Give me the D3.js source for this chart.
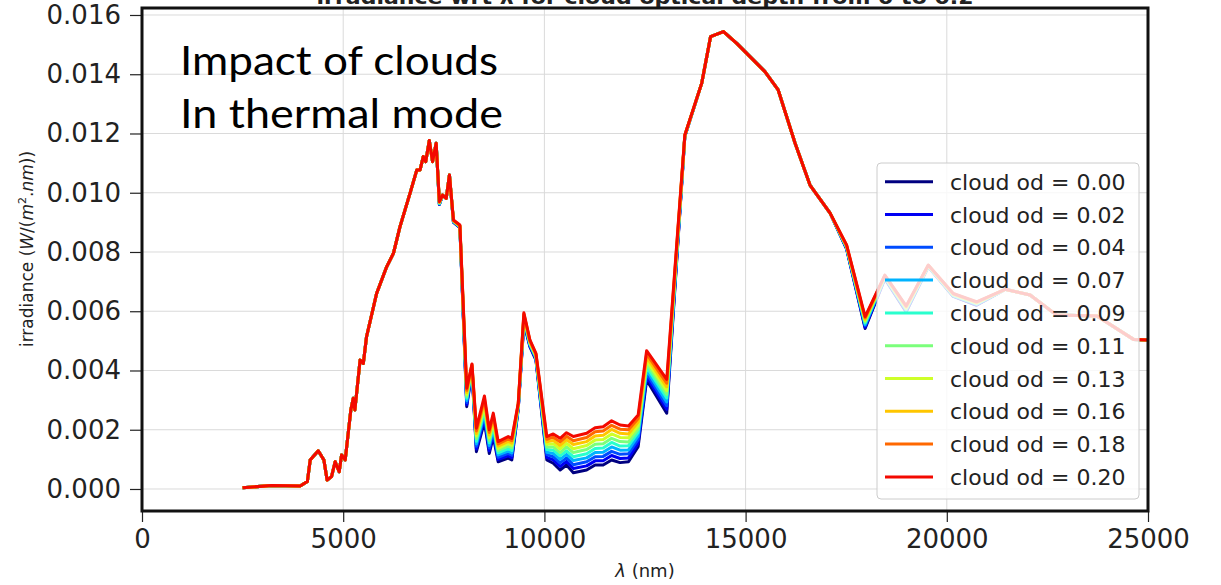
<!DOCTYPE html>
<html>
<head>
<meta charset="utf-8">
<script src="https://cdn.jsdelivr.net/npm/d3@7"></script>
<style>
    body { margin: 0; background: #fff; }
    svg { display: block; }
    .tick text { font-family: "DejaVu Sans", sans-serif; fill: #222; }
</style>
</head>
<body>
<div id="chart"></div>
<script>
// wavelength samples (nm)
const wavelength = [
    2500, 3220, 3930, 4110, 4180, 4380, 4520, 4600, 4710, 4800,
    4900, 4960, 5050, 5190, 5250, 5290, 5420, 5500, 5580, 5830,
    6080, 6250, 6410, 6660, 6830, 6910, 6990, 7050, 7140, 7220,
    7310, 7390, 7470, 7560, 7640, 7740, 7900, 8070, 8200, 8310,
    8510, 8630, 8730, 8850, 9100, 9190, 9350, 9490, 9640, 9790,
    10060, 10220, 10390, 10550, 10720, 11050, 11260, 11460, 11670, 11880,
    12090, 12330, 12540, 13040, 13490, 13910, 14130, 14450, 14780, 15480,
    15810, 16230, 16600, 17100, 17510, 17970, 18460, 18990, 19540, 20160,
    20740, 21450, 22070, 22730, 23730, 24640, 25000
];

// irradiance W/(m2.nm), one array per cloud optical depth
const od000 = [
    0.00004, 0.00012, 0.00010, 0.00025, 0.00098, 0.00129, 0.00098, 0.00030, 0.00042, 0.00092,
    0.00058, 0.00115, 0.00098, 0.00267, 0.00306, 0.00267, 0.00435, 0.00424, 0.00514, 0.00660,
    0.00750, 0.00796, 0.00885, 0.00998, 0.01077, 0.01077, 0.01122, 0.01105, 0.01176, 0.01105,
    0.01167, 0.00960, 0.00992, 0.00981, 0.01060, 0.00900, 0.00882, 0.00278, 0.00400, 0.00126,
    0.00227, 0.00120, 0.00177, 0.00092, 0.00104, 0.00098, 0.00270, 0.00560, 0.00480, 0.00435,
    0.00098, 0.00087, 0.00064, 0.00081, 0.00055, 0.00064, 0.00081, 0.00081, 0.00098, 0.00089,
    0.00092, 0.00143, 0.00368, 0.00256, 0.01190, 0.01370, 0.01527, 0.01544, 0.01504, 0.01409,
    0.01347, 0.01167, 0.01026, 0.00931, 0.00810, 0.00542, 0.00710, 0.00598, 0.00750, 0.00650,
    0.00620, 0.00674, 0.00655, 0.00587, 0.00584, 0.00505, 0.00503
];
const od002 = [
    0.00004, 0.00012, 0.00010, 0.00025, 0.00098, 0.00129, 0.00098, 0.00030, 0.00042, 0.00092,
    0.00058, 0.00115, 0.00098, 0.00267, 0.00306, 0.00267, 0.00435, 0.00424, 0.00514, 0.00660,
    0.00750, 0.00796, 0.00885, 0.00998, 0.01077, 0.01077, 0.01122, 0.01105, 0.01176, 0.01105,
    0.01167, 0.00961, 0.00992, 0.00981, 0.01060, 0.00901, 0.00883, 0.00285, 0.00402, 0.00135,
    0.00237, 0.00129, 0.00186, 0.00100, 0.00112, 0.00106, 0.00272, 0.00564, 0.00483, 0.00438,
    0.00107, 0.00098, 0.00076, 0.00093, 0.00069, 0.00078, 0.00095, 0.00095, 0.00113, 0.00103,
    0.00105, 0.00155, 0.00379, 0.00269, 0.01191, 0.01370, 0.01527, 0.01544, 0.01504, 0.01409,
    0.01347, 0.01167, 0.01026, 0.00931, 0.00812, 0.00546, 0.00711, 0.00600, 0.00751, 0.00651,
    0.00621, 0.00674, 0.00655, 0.00587, 0.00584, 0.00505, 0.00503
];
const od004 = [
    0.00004, 0.00012, 0.00010, 0.00025, 0.00098, 0.00129, 0.00098, 0.00030, 0.00042, 0.00092,
    0.00058, 0.00115, 0.00098, 0.00267, 0.00306, 0.00267, 0.00435, 0.00424, 0.00514, 0.00660,
    0.00750, 0.00796, 0.00885, 0.00998, 0.01077, 0.01077, 0.01122, 0.01105, 0.01176, 0.01105,
    0.01167, 0.00962, 0.00992, 0.00981, 0.01060, 0.00902, 0.00884, 0.00292, 0.00405, 0.00144,
    0.00246, 0.00138, 0.00195, 0.00107, 0.00120, 0.00114, 0.00274, 0.00568, 0.00485, 0.00440,
    0.00116, 0.00109, 0.00088, 0.00105, 0.00082, 0.00092, 0.00109, 0.00110, 0.00127, 0.00117,
    0.00119, 0.00167, 0.00390, 0.00281, 0.01191, 0.01370, 0.01527, 0.01544, 0.01504, 0.01409,
    0.01347, 0.01167, 0.01026, 0.00931, 0.00813, 0.00551, 0.00713, 0.00602, 0.00751, 0.00652,
    0.00623, 0.00674, 0.00655, 0.00587, 0.00584, 0.00505, 0.00503
];
const od007 = [
    0.00004, 0.00012, 0.00010, 0.00025, 0.00098, 0.00129, 0.00098, 0.00030, 0.00042, 0.00092,
    0.00058, 0.00115, 0.00098, 0.00267, 0.00306, 0.00267, 0.00435, 0.00424, 0.00514, 0.00660,
    0.00750, 0.00796, 0.00885, 0.00998, 0.01077, 0.01077, 0.01122, 0.01105, 0.01176, 0.01105,
    0.01167, 0.00963, 0.00992, 0.00981, 0.01060, 0.00903, 0.00885, 0.00299, 0.00407, 0.00152,
    0.00256, 0.00147, 0.00203, 0.00115, 0.00128, 0.00122, 0.00276, 0.00572, 0.00488, 0.00443,
    0.00124, 0.00120, 0.00100, 0.00117, 0.00096, 0.00105, 0.00123, 0.00124, 0.00142, 0.00131,
    0.00132, 0.00179, 0.00401, 0.00294, 0.01192, 0.01370, 0.01527, 0.01544, 0.01504, 0.01409,
    0.01347, 0.01167, 0.01026, 0.00931, 0.00815, 0.00555, 0.00714, 0.00605, 0.00752, 0.00653,
    0.00624, 0.00674, 0.00655, 0.00587, 0.00584, 0.00505, 0.00503
];
const od009 = [
    0.00004, 0.00012, 0.00010, 0.00025, 0.00098, 0.00129, 0.00098, 0.00030, 0.00042, 0.00092,
    0.00058, 0.00115, 0.00098, 0.00267, 0.00306, 0.00267, 0.00435, 0.00424, 0.00514, 0.00660,
    0.00750, 0.00796, 0.00885, 0.00998, 0.01077, 0.01077, 0.01122, 0.01105, 0.01176, 0.01105,
    0.01167, 0.00964, 0.00992, 0.00981, 0.01060, 0.00904, 0.00886, 0.00306, 0.00410, 0.00161,
    0.00266, 0.00156, 0.00212, 0.00122, 0.00136, 0.00130, 0.00278, 0.00576, 0.00490, 0.00445,
    0.00133, 0.00131, 0.00112, 0.00129, 0.00109, 0.00119, 0.00137, 0.00138, 0.00157, 0.00145,
    0.00146, 0.00191, 0.00412, 0.00307, 0.01192, 0.01370, 0.01527, 0.01544, 0.01504, 0.01409,
    0.01347, 0.01167, 0.01026, 0.00931, 0.00816, 0.00560, 0.00715, 0.00607, 0.00753, 0.00654,
    0.00625, 0.00674, 0.00655, 0.00587, 0.00584, 0.00505, 0.00503
];
const od011 = [
    0.00004, 0.00012, 0.00010, 0.00025, 0.00098, 0.00129, 0.00098, 0.00030, 0.00042, 0.00092,
    0.00058, 0.00115, 0.00098, 0.00267, 0.00306, 0.00267, 0.00435, 0.00424, 0.00514, 0.00660,
    0.00750, 0.00796, 0.00885, 0.00998, 0.01077, 0.01077, 0.01122, 0.01105, 0.01176, 0.01105,
    0.01167, 0.00966, 0.00992, 0.00981, 0.01060, 0.00904, 0.00886, 0.00312, 0.00412, 0.00170,
    0.00275, 0.00164, 0.00221, 0.00130, 0.00145, 0.00139, 0.00281, 0.00579, 0.00493, 0.00448,
    0.00142, 0.00142, 0.00123, 0.00142, 0.00123, 0.00133, 0.00151, 0.00153, 0.00171, 0.00160,
    0.00159, 0.00202, 0.00423, 0.00319, 0.01193, 0.01370, 0.01527, 0.01544, 0.01504, 0.01409,
    0.01347, 0.01167, 0.01026, 0.00931, 0.00818, 0.00564, 0.00717, 0.00609, 0.00753, 0.00656,
    0.00627, 0.00674, 0.00655, 0.00587, 0.00584, 0.00505, 0.00503
];
const od013 = [
    0.00004, 0.00012, 0.00010, 0.00025, 0.00098, 0.00129, 0.00098, 0.00030, 0.00042, 0.00092,
    0.00058, 0.00115, 0.00098, 0.00267, 0.00306, 0.00267, 0.00435, 0.00424, 0.00514, 0.00660,
    0.00750, 0.00796, 0.00885, 0.00998, 0.01077, 0.01077, 0.01122, 0.01105, 0.01176, 0.01105,
    0.01167, 0.00967, 0.00992, 0.00981, 0.01060, 0.00905, 0.00887, 0.00319, 0.00415, 0.00179,
    0.00285, 0.00173, 0.00230, 0.00137, 0.00153, 0.00147, 0.00283, 0.00583, 0.00495, 0.00450,
    0.00151, 0.00153, 0.00135, 0.00154, 0.00136, 0.00147, 0.00165, 0.00167, 0.00186, 0.00174,
    0.00173, 0.00214, 0.00434, 0.00332, 0.01193, 0.01370, 0.01527, 0.01544, 0.01504, 0.01409,
    0.01347, 0.01167, 0.01026, 0.00931, 0.00819, 0.00569, 0.00718, 0.00611, 0.00754, 0.00657,
    0.00628, 0.00674, 0.00655, 0.00587, 0.00584, 0.00505, 0.00503
];
const od016 = [
    0.00004, 0.00012, 0.00010, 0.00025, 0.00098, 0.00129, 0.00098, 0.00030, 0.00042, 0.00092,
    0.00058, 0.00115, 0.00098, 0.00267, 0.00306, 0.00267, 0.00435, 0.00424, 0.00514, 0.00660,
    0.00750, 0.00796, 0.00885, 0.00998, 0.01077, 0.01077, 0.01122, 0.01105, 0.01176, 0.01105,
    0.01167, 0.00968, 0.00992, 0.00981, 0.01060, 0.00906, 0.00888, 0.00326, 0.00417, 0.00187,
    0.00295, 0.00182, 0.00238, 0.00145, 0.00161, 0.00155, 0.00285, 0.00587, 0.00498, 0.00453,
    0.00159, 0.00164, 0.00147, 0.00166, 0.00150, 0.00160, 0.00179, 0.00181, 0.00201, 0.00188,
    0.00186, 0.00226, 0.00445, 0.00345, 0.01194, 0.01370, 0.01527, 0.01544, 0.01504, 0.01409,
    0.01347, 0.01167, 0.01026, 0.00931, 0.00821, 0.00573, 0.00719, 0.00614, 0.00755, 0.00658,
    0.00629, 0.00674, 0.00655, 0.00587, 0.00584, 0.00505, 0.00503
];
const od018 = [
    0.00004, 0.00012, 0.00010, 0.00025, 0.00098, 0.00129, 0.00098, 0.00030, 0.00042, 0.00092,
    0.00058, 0.00115, 0.00098, 0.00267, 0.00306, 0.00267, 0.00435, 0.00424, 0.00514, 0.00660,
    0.00750, 0.00796, 0.00885, 0.00998, 0.01077, 0.01077, 0.01122, 0.01105, 0.01176, 0.01105,
    0.01167, 0.00969, 0.00992, 0.00981, 0.01060, 0.00907, 0.00889, 0.00333, 0.00420, 0.00196,
    0.00304, 0.00191, 0.00247, 0.00152, 0.00169, 0.00163, 0.00287, 0.00591, 0.00500, 0.00455,
    0.00168, 0.00175, 0.00159, 0.00178, 0.00163, 0.00174, 0.00193, 0.00196, 0.00215, 0.00202,
    0.00200, 0.00238, 0.00456, 0.00357, 0.01194, 0.01370, 0.01527, 0.01544, 0.01504, 0.01409,
    0.01347, 0.01167, 0.01026, 0.00931, 0.00822, 0.00578, 0.00721, 0.00616, 0.00755, 0.00659,
    0.00631, 0.00674, 0.00655, 0.00587, 0.00584, 0.00505, 0.00503
];
const od020 = [
    0.00004, 0.00012, 0.00010, 0.00025, 0.00098, 0.00129, 0.00098, 0.00030, 0.00042, 0.00092,
    0.00058, 0.00115, 0.00098, 0.00267, 0.00306, 0.00267, 0.00435, 0.00424, 0.00514, 0.00660,
    0.00750, 0.00796, 0.00885, 0.00998, 0.01077, 0.01077, 0.01122, 0.01105, 0.01176, 0.01105,
    0.01167, 0.00970, 0.00992, 0.00981, 0.01060, 0.00908, 0.00891, 0.00340, 0.00422, 0.00205,
    0.00314, 0.00200, 0.00256, 0.00160, 0.00177, 0.00171, 0.00289, 0.00595, 0.00503, 0.00458,
    0.00177, 0.00186, 0.00171, 0.00190, 0.00177, 0.00188, 0.00207, 0.00210, 0.00230, 0.00216,
    0.00213, 0.00250, 0.00467, 0.00370, 0.01195, 0.01370, 0.01527, 0.01544, 0.01504, 0.01409,
    0.01347, 0.01167, 0.01026, 0.00931, 0.00824, 0.00582, 0.00722, 0.00618, 0.00756, 0.00660,
    0.00632, 0.00674, 0.00655, 0.00587, 0.00584, 0.00505, 0.00503
];

const cloudOd = ['0.00', '0.02', '0.04', '0.07', '0.09', '0.11', '0.13', '0.16', '0.18', '0.20'];
const seriesValues = [od000, od002, od004, od007, od009, od011, od013, od016, od018, od020];

const xTicks = [0, 5000, 10000, 15000, 20000, 25000];
const yTicks = [0, 0.002, 0.004, 0.006, 0.008, 0.010, 0.012, 0.014, 0.016];

// jet colormap samples
const jetColors = ['#000080', '#0000f3', '#004cff', '#00b3ff', '#29ffce',
                   '#7bff7b', '#ceff29', '#ffc600', '#ff6800', '#f30900'];

const width = 1221, height = 585;
const plot = {left: 142, right: 1148, top: 8, bottom: 511};

const svg = d3.select('#chart').append('svg')
    .attr('width', width)
    .attr('height', height);

const x = d3.scaleLinear().domain([0, 25000]).range([plot.left, plot.right]);
const y = d3.scaleLinear().domain([-0.000743, 0.016236]).range([plot.bottom, plot.top]);

// grid
const grid = svg.append('g').attr('stroke', '#dadada').attr('stroke-width', 1);
grid.selectAll('.gx').data(xTicks).join('line')
    .attr('x1', d => x(d)).attr('x2', d => x(d))
    .attr('y1', plot.top).attr('y2', plot.bottom);
grid.selectAll('.gy').data(yTicks).join('line')
    .attr('x1', plot.left).attr('x2', plot.right)
    .attr('y1', d => y(d)).attr('y2', d => y(d));

// title, mostly cut off at the top edge
svg.append('text')
    .attr('x', (plot.left + plot.right) / 2)
    .attr('y', 4)
    .attr('text-anchor', 'middle')
    .attr('font-family', 'DejaVu Sans')
    .attr('font-weight', 'bold')
    .attr('font-size', 20)
    .attr('textLength', 657)
    .attr('lengthAdjust', 'spacingAndGlyphs')
    .attr('fill', '#222')
    .text('irradiance wrt λ for cloud optical depth from 0 to 0.2');

// lines
svg.append('clipPath').attr('id', 'clip')
    .append('rect')
    .attr('x', plot.left).attr('y', plot.top)
    .attr('width', plot.right - plot.left).attr('height', plot.bottom - plot.top);

const line = d3.line()
    .x((d, i) => x(wavelength[i]))
    .y(d => y(d));

svg.append('g').attr('clip-path', 'url(#clip)')
    .selectAll('path').data(seriesValues).join('path')
    .attr('d', line)
    .attr('fill', 'none')
    .attr('stroke', (d, i) => jetColors[i])
    .attr('stroke-width', 3)
    .attr('stroke-linejoin', 'round');

// overlay note
const note = svg.append('g')
    .attr('font-family', 'Lato, "Open Sans", sans-serif')
    .attr('font-size', 41)
    .attr('fill', '#000');
note.append('text').attr('x', 180).attr('y', 75)
    .attr('textLength', 318).attr('lengthAdjust', 'spacingAndGlyphs')
    .text('Impact of clouds');
note.append('text').attr('x', 180).attr('y', 128)
    .attr('textLength', 323).attr('lengthAdjust', 'spacingAndGlyphs')
    .text('In thermal mode');

// axes
const yAxis = svg.append('g')
    .attr('transform', `translate(${plot.left},0)`)
    .call(d3.axisLeft(y).tickValues(yTicks).tickFormat(d3.format('.3f')).tickSize(12).tickPadding(9));
const xAxis = svg.append('g')
    .attr('transform', `translate(0,${plot.bottom})`)
    .call(d3.axisBottom(x).tickValues(xTicks).tickFormat(d3.format('d')).tickSize(11).tickPadding(8));

for (const ax of [xAxis, yAxis]) {
    ax.select('.domain').remove();
    ax.selectAll('.tick line').attr('stroke', '#222').attr('stroke-width', 1.2);
    ax.selectAll('.tick text').attr('font-size', 26);
}

// frame
svg.append('rect')
    .attr('x', plot.left).attr('y', plot.top)
    .attr('width', plot.right - plot.left).attr('height', plot.bottom - plot.top)
    .attr('fill', 'none')
    .attr('stroke', '#111')
    .attr('stroke-width', 3);

// axis labels
const yLabel = svg.append('text')
    .attr('transform', 'translate(33,249) rotate(-90)')
    .attr('text-anchor', 'middle')
    .attr('font-family', 'DejaVu Sans')
    .attr('font-size', 17)
    .attr('fill', '#222');
yLabel.append('tspan').text('irradiance (');
yLabel.append('tspan').attr('font-style', 'italic').text('W');
yLabel.append('tspan').text('/(');
yLabel.append('tspan').attr('font-style', 'italic').text('m');
yLabel.append('tspan').attr('font-size', 11).attr('dy', -7).text('2');
yLabel.append('tspan').attr('dy', 7).text('.');
yLabel.append('tspan').attr('font-style', 'italic').text('nm');
yLabel.append('tspan').text('))');

const xLabel = svg.append('text')
    .attr('x', (plot.left + plot.right) / 2)
    .attr('y', 577)
    .attr('text-anchor', 'middle')
    .attr('font-family', 'DejaVu Sans')
    .attr('font-size', 18)
    .attr('fill', '#222');
xLabel.append('tspan').attr('font-style', 'italic').text('λ');
xLabel.append('tspan').text(' (nm)');

// legend
const legend = svg.append('g');
legend.append('rect')
    .attr('x', 877).attr('y', 163)
    .attr('width', 262).attr('height', 336)
    .attr('rx', 4)
    .attr('fill', '#fff').attr('fill-opacity', 0.8)
    .attr('stroke', '#cccccc').attr('stroke-width', 1);

const rows = legend.selectAll('.row').data(cloudOd).join('g')
    .attr('transform', (d, i) => `translate(0,${181.7 + i * 32.8})`);
rows.append('line')
    .attr('x1', 885).attr('x2', 933)
    .attr('stroke', (d, i) => jetColors[i])
    .attr('stroke-width', 3);
rows.append('text')
    .attr('x', 950).attr('y', 8)
    .attr('font-family', 'DejaVu Sans')
    .attr('font-size', 22)
    .attr('fill', '#222')
    .text(d => 'cloud od = ' + d);
</script>
</body>
</html>
